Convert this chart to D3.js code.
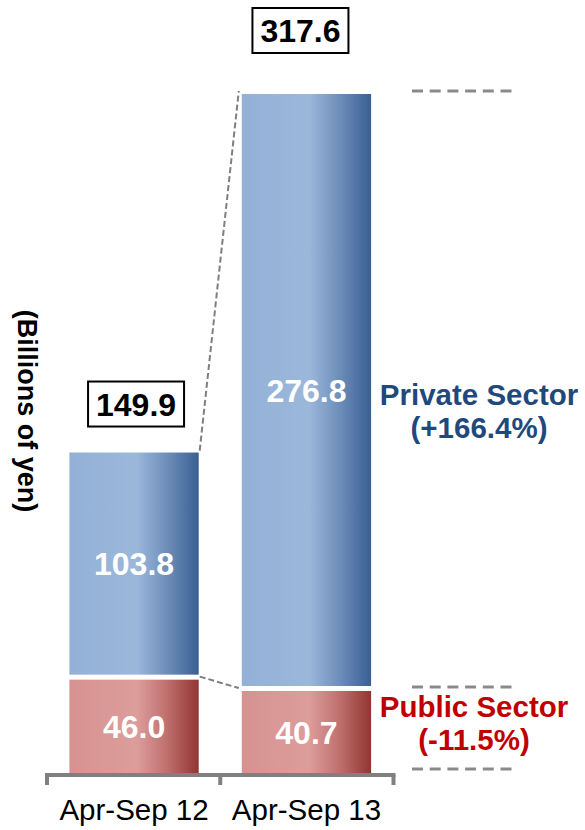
<!DOCTYPE html>
<html>
<head>
<meta charset="utf-8">
<script src="https://cdn.jsdelivr.net/npm/d3@7/dist/d3.min.js"></script>
<style>
  html, body { margin: 0; padding: 0; background: #fff; }
  svg { display: block; font-family: "Liberation Sans", Arial, sans-serif; }
</style>
</head>
<body>
<svg id="chart" width="585" height="830"></svg>
<script>
// Orders received, billions of yen
const categories = ["Apr-Sep 12", "Apr-Sep 13"];
const publicSector = [46.0, 40.7];
const privateSector = [103.8, 276.8];
const totals = [149.9, 317.6];
const sectorNames = ["Private Sector", "Public Sector"];
const sectorChanges = ["(+166.4%)", "(-11.5%)"];
const axisTitle = "(Billions of yen)";

const svg = d3.select("#chart");
const baseY = 773, topY = 94;

const x = d3.scaleBand()
  .domain(categories)
  .range([47, 393.5])
  .paddingInner(0.25)
  .paddingOuter(0.13);

const y = d3.scaleLinear()
  .domain([0, d3.max(totals)])
  .range([baseY, topY]);

// gradients
const defs = svg.append("defs");
function grad(id, stops) {
  const g = defs.append("linearGradient").attr("id", id)
    .attr("x1", "0%").attr("x2", "100%").attr("y1", "0%").attr("y2", "0%");
  stops.forEach(([o, c]) => g.append("stop").attr("offset", o).attr("stop-color", c));
}
grad("gBlue", [["0%", "#93b1d6"], ["52%", "#9bb8db"], ["75%", "#6f8fbb"], ["100%", "#395f92"]]);
grad("gRed", [["0%", "#d79290"], ["52%", "#dc9d9b"], ["75%", "#c0716f"], ["100%", "#913532"]]);
grad("gTop", [["0%", "#9fbb62"], ["50%", "#eef3e2"], ["100%", "#9fbb62"]]);

const idx = d3.range(categories.length);
const gapPub = 5;

// private sector segments
svg.append("g").selectAll("rect").data(idx).join("rect")
  .attr("x", i => x(categories[i]))
  .attr("width", x.bandwidth())
  .attr("y", i => y(totals[i]))
  .attr("height", i => y(publicSector[i]) - y(totals[i]))
  .attr("fill", "url(#gBlue)");

// public sector segments
svg.append("g").selectAll("rect").data(idx).join("rect")
  .attr("x", i => x(categories[i]))
  .attr("width", x.bandwidth())
  .attr("y", i => y(publicSector[i]) + gapPub)
  .attr("height", i => y(0) - y(publicSector[i]) - gapPub)
  .attr("fill", "url(#gRed)");

// thin rim above each bar
svg.append("g").selectAll("line").data(idx).join("line")
  .attr("x1", i => x(categories[i]) - 2)
  .attr("x2", i => x(categories[i]) + x.bandwidth() + 3)
  .attr("y1", i => y(totals[i]) - 2.5)
  .attr("y2", i => y(totals[i]) - 2.5)
  .attr("stroke", "url(#gTop)")
  .attr("stroke-width", 1.3);

// connectors between bars
const x0r = x(categories[0]) + x.bandwidth() + 1;
const x1l = x(categories[1]) - 3;
const conn = svg.append("g").attr("stroke", "#7f7f7f").attr("stroke-width", 2)
  .attr("stroke-dasharray", "6,3").attr("fill", "none");
conn.append("line")
  .attr("x1", x0r).attr("y1", y(totals[0]) - 2)
  .attr("x2", x1l).attr("y2", y(totals[1]) - 3);
conn.append("line")
  .attr("x1", x0r).attr("y1", y(publicSector[0]) + 2)
  .attr("x2", x1l).attr("y2", y(publicSector[1]) + 2);

// bracket lines on the right
const rx1 = 412, rx2 = 518;
const guideY = [y(totals[1]) - 3, y(publicSector[1]) + 1, y(0) - 4];
svg.append("g").selectAll("line").data(guideY).join("line")
  .attr("x1", rx1).attr("x2", rx2)
  .attr("y1", d => d).attr("y2", d => d)
  .attr("stroke", "#8a8a8a").attr("stroke-width", 3)
  .attr("stroke-dasharray", "11,6.7");

// value labels inside segments
const valFont = 32;
svg.append("g").selectAll("text").data(idx).join("text")
  .attr("x", i => x(categories[i]) + x.bandwidth() / 2)
  .attr("y", i => (y(totals[i]) + y(publicSector[i])) / 2 + valFont * 0.36)
  .attr("text-anchor", "middle")
  .attr("font-size", valFont).attr("font-weight", "bold").attr("fill", "#fff")
  .text(i => privateSector[i].toFixed(1));
svg.append("g").selectAll("text").data(idx).join("text")
  .attr("x", i => x(categories[i]) + x.bandwidth() / 2)
  .attr("y", i => (y(publicSector[i]) + gapPub + y(0)) / 2 + valFont * 0.36)
  .attr("text-anchor", "middle")
  .attr("font-size", valFont).attr("font-weight", "bold").attr("fill", "#fff")
  .text(i => publicSector[i].toFixed(1));

// total boxes above bars
const boxW = 96, boxH = 45, boxGap = [26, 41], boxShift = [2, -6];
const tb = svg.append("g").selectAll("g").data(idx).join("g")
  .attr("transform", i => {
    const cx = x(categories[i]) + x.bandwidth() / 2 + boxShift[i];
    const by = y(totals[i]) - boxGap[i] - boxH;
    return `translate(${cx - boxW / 2},${by})`;
  });
tb.append("rect").attr("width", boxW).attr("height", boxH)
  .attr("fill", "#fff").attr("stroke", "#000").attr("stroke-width", 2);
tb.append("text").attr("x", boxW / 2).attr("y", boxH / 2 + 11.5)
  .attr("text-anchor", "middle").attr("font-size", 32).attr("font-weight", "bold")
  .attr("fill", "#000")
  .text(i => totals[i].toFixed(1));

// baseline axis with bracket ticks at band edges
const axY = baseY + 2;
const [r0, r1] = x.range();
const edges = [r0, (x(categories[0]) + x.bandwidth() + x(categories[1])) / 2, r1];
const ax = svg.append("g").attr("stroke", "#808080").attr("stroke-width", 4).attr("fill", "none");
ax.append("line").attr("x1", r0 - 2).attr("x2", r1 + 2).attr("y1", axY).attr("y2", axY);
ax.selectAll("line.tick").data(edges).join("line").attr("class", "tick")
  .attr("x1", d => d).attr("x2", d => d).attr("y1", axY).attr("y2", axY + 10);

svg.append("g").selectAll("text").data(categories).join("text")
  .attr("x", d => x(d) + x.bandwidth() / 2)
  .attr("y", 820)
  .attr("text-anchor", "middle").attr("font-size", 29.5).attr("fill", "#000")
  .text(d => d);

// axis title
svg.append("text")
  .attr("transform", "translate(18,411) rotate(90)")
  .attr("text-anchor", "middle").attr("font-size", 27).attr("font-weight", "bold")
  .attr("fill", "#000")
  .text(axisTitle);

// sector annotations
const privMid = (y(totals[1]) + y(publicSector[1])) / 2;
const privG = svg.append("g").attr("fill", "#1f497d").attr("font-weight", "bold")
  .attr("text-anchor", "middle").attr("font-size", 29.5);
privG.append("text").attr("x", 479).attr("y", privMid + 15).text(sectorNames[0]);
privG.append("text").attr("x", 479).attr("y", privMid + 48).text(sectorChanges[0]);

const pubMid = (y(publicSector[1]) + y(0)) / 2;
const pubG = svg.append("g").attr("fill", "#c00000").attr("font-weight", "bold")
  .attr("text-anchor", "middle").attr("font-size", 29.5);
pubG.append("text").attr("x", 474).attr("y", pubMid - 12).text(sectorNames[1]);
pubG.append("text").attr("x", 474).attr("y", pubMid + 21).text(sectorChanges[1]);
</script>
</body>
</html>
